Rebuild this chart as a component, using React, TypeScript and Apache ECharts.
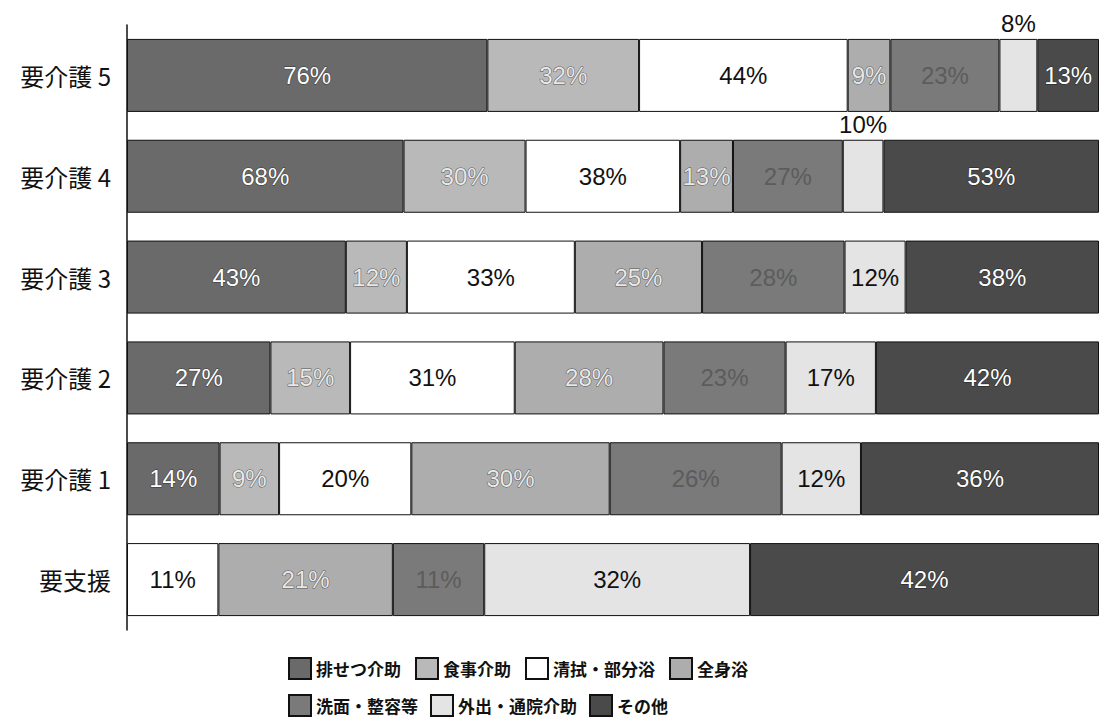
import React, { useEffect, useRef } from "react";
import * as echarts from "echarts";

const categories = ["要支援", "要介護 1", "要介護 2", "要介護 3", "要介護 4", "要介護 5"];
const seriesNames = ["排せつ介助", "食事介助", "清拭・部分浴", "全身浴", "洗面・整容等", "外出・通院介助", "その他"];
const haisetsu = [null, 14, 27, 43, 68, 76];
const shokuji = [null, 9, 15, 12, 30, 32];
const seishiki = [11, 20, 31, 33, 38, 44];
const zenshinyoku = [21, 30, 28, 25, 13, 9];
const senmen = [11, 26, 23, 28, 27, 23];
const gaishutsu = [32, 12, 17, 12, 10, 8];
const sonota = [42, 36, 42, 38, 53, 13];

const allValues = [haisetsu, shokuji, seishiki, zenshinyoku, senmen, gaishutsu, sonota];
const barColors = ["#6a6a6a", "#b9b9b9", "#ffffff", "#adadad", "#7a7a7a", "#e4e4e4", "#4a4a4a"];
const labelColors = ["#ffffff", "#e8e8e8", "#111111", "#e8e8e8", "#5c5c5c", "#111111", "#ffffff"];
const labelBorders = ["#333333", "#555555", "transparent", "#555555", "transparent", "transparent", "#222222"];
const topLabelIdx = [4, 5]; // rows where 外出 label sits above the bar

export default function App() {
  const ref = useRef<HTMLDivElement>(null);
  useEffect(() => {
    if (!ref.current) return;
    const chart = echarts.init(ref.current, null, { renderer: "svg" });
    const totals = categories.map((_, i) =>
      allValues.reduce((s, arr) => s + (arr[i] == null ? 0 : (arr[i] as number)), 0)
    );
    const series = seriesNames.map((name, si) => ({
      name,
      type: "bar",
      stack: "total",
      barWidth: 73,
      itemStyle: { color: barColors[si], borderColor: "#111", borderWidth: 1 },
      label: {
        show: true,
        position: "inside",
        fontFamily: "Liberation Sans, Arial, sans-serif",
        fontSize: 24,
        color: labelColors[si],
        textBorderColor: labelBorders[si],
        textBorderWidth: labelBorders[si] === "transparent" ? 0 : 1,
        formatter: (p: any) => p.data.raw + "%",
      },
      data: allValues[si].map((v, i) => {
        if (v == null) return null;
        const d: any = { value: ((v as number) / totals[i]) * 100, raw: v };
        if (si === 5 && topLabelIdx.includes(i)) {
          d.label = { position: "top", distance: 3, color: "#111" };
        }
        return d;
      }),
    }));
    chart.setOption({
      animation: false,
      backgroundColor: "#ffffff",
      grid: { left: 127, right: -6, top: 25, bottom: 92, containLabel: false },
      xAxis: { type: "value", min: 0, max: 100, show: false },
      yAxis: {
        type: "category",
        data: categories,
        axisLine: { show: true, lineStyle: { color: "#111", width: 1.5 } },
        axisTick: { show: false },
        axisLabel: {
          fontSize: 24,
          color: "#111",
          margin: 16,
          fontFamily: "Noto Sans CJK JP, sans-serif",
        },
      },
      legend: [
        {
          data: seriesNames.slice(0, 4),
          left: 283,
          top: 652,
          itemWidth: 22,
          itemHeight: 21,
          itemGap: 14,
          icon: "rect",
          textStyle: { fontSize: 17, color: "#111", fontWeight: "bold", fontFamily: "Noto Sans CJK JP, sans-serif" },
        },
        {
          data: seriesNames.slice(4),
          left: 283,
          top: 689,
          itemWidth: 22,
          itemHeight: 21,
          itemGap: 12,
          icon: "rect",
          textStyle: { fontSize: 17, color: "#111", fontWeight: "bold", fontFamily: "Noto Sans CJK JP, sans-serif" },
        },
      ],
      series,
    });
    return () => chart.dispose();
  }, []);
  return (
    <div
      ref={ref}
      style={{ position: "fixed", left: 0, top: 0, width: 1099, height: 722, background: "#fff" }}
    />
  );
}
